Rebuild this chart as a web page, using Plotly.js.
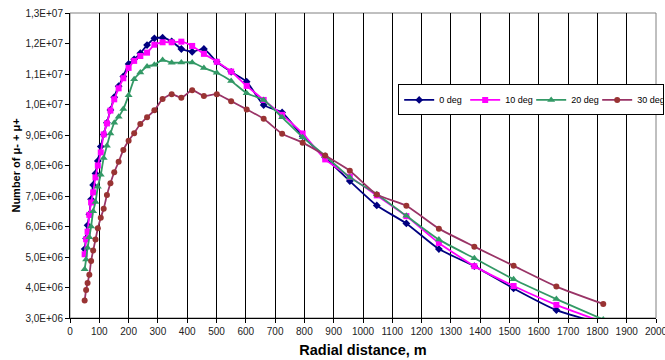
<!DOCTYPE html>
<html>
<head>
<meta charset="utf-8">
<script src="https://cdn.plot.ly/plotly-3.0.1.min.js"></script>
<style>html,body{margin:0;padding:0;background:#fff;}#chart{width:665px;height:360px;}</style>
</head>
<body>
<div id="chart"></div>
<script>
// Radial distance, m
var distance = [50, 55, 60, 66, 72, 79, 87, 95, 105, 115, 126, 138, 151, 166, 182, 200, 219, 240, 263, 288,
  316, 347, 380, 417, 457, 501, 550, 603, 661, 724, 794, 871, 955, 1047, 1148, 1259, 1380, 1514, 1660, 1820];

// Number of muons (millions)
var deg0 = [5.26, 5.61, 6.04, 6.40, 6.89, 7.36, 7.74, 8.15, 8.62, 9.02, 9.40, 9.82, 10.24, 10.60, 10.92, 11.33, 11.48, 11.68, 11.95, 12.17,
  12.19, 12.07, 11.82, 11.73, 11.82, 11.40, 11.07, 10.75, 9.98, 9.74, 8.96, 8.26, 7.49, 6.69, 6.10, 5.26, 4.70, 3.97, 3.26, 2.80];
var deg10 = [5.09, 5.58, 5.83, 6.38, 6.79, 7.12, 7.61, 8.00, 8.43, 9.02, 9.38, 9.80, 10.17, 10.53, 10.86, 11.20, 11.43, 11.59, 11.70, 11.96,
  12.04, 12.04, 12.06, 11.92, 11.66, 11.40, 11.08, 10.61, 10.15, 9.66, 9.05, 8.20, 7.63, 7.02, 6.34, 5.46, 4.70, 4.05, 3.43, 2.86];
var deg20 = [4.60, 4.92, 5.30, 5.65, 6.00, 6.50, 6.80, 7.30, 7.70, 8.25, 8.65, 9.05, 9.40, 9.60, 9.85, 10.30, 10.83, 11.05, 11.25, 11.30,
  11.46, 11.37, 11.38, 11.38, 11.20, 11.04, 10.77, 10.37, 10.15, 9.58, 8.93, 8.32, 7.61, 7.06, 6.35, 5.57, 4.96, 4.27, 3.62, 2.95];
var deg30 = [3.57, 3.92, 4.15, 4.42, 4.87, 5.21, 5.57, 5.94, 6.29, 6.58, 7.03, 7.42, 7.78, 8.12, 8.51, 8.81, 9.06, 9.36, 9.58, 9.81,
  10.18, 10.34, 10.22, 10.47, 10.28, 10.34, 10.11, 9.84, 9.53, 9.04, 8.75, 8.33, 7.83, 7.05, 6.68, 5.93, 5.34, 4.71, 4.03, 3.46];

var seriesNames = ['0 deg', '10 deg', '20 deg', '30 deg'];
var yTickVals = [3, 4, 5, 6, 7, 8, 9, 10, 11, 12, 13];
var yTickText = ['3,0E+06', '4,0E+06', '5,0E+06', '6,0E+06', '7,0E+06', '8,0E+06', '9,0E+06', '1,0E+07', '1,1E+07', '1,2E+07', '1,3E+07'];
var xTickVals = [0, 100, 200, 300, 400, 500, 600, 700, 800, 900, 1000, 1100, 1200, 1300, 1400, 1500, 1600, 1700, 1800, 1900, 2000];

function scale(a) { return a.map(function (v) { return v * 1e6; }); }

var styles = [
  {line: '#000080', marker: '#000080', symbol: 'diamond', size: 6},
  {line: '#FF00FF', marker: '#FF00FF', symbol: 'square', size: 6},
  {line: '#339966', marker: '#339966', symbol: 'triangle-up', size: 7},
  {line: '#993366', marker: '#993333', symbol: 'circle', size: 6}
];
var ys = [deg0, deg10, deg20, deg30];

var traces = ys.map(function (arr, i) {
  return {
    x: distance, y: scale(arr), name: seriesNames[i], type: 'scatter', mode: 'lines+markers',
    line: {color: styles[i].line, width: 1.8, shape: 'spline', smoothing: 0.5},
    marker: {color: styles[i].marker, symbol: styles[i].symbol, size: styles[i].size},
    cliponaxis: true
  };
});

var layout = {
  width: 665, height: 360,
  margin: {l: 70, r: 9, t: 13, b: 42, autoexpand: false},
  paper_bgcolor: '#fff', plot_bgcolor: '#fff',
  font: {family: 'Arial, Liberation Sans, sans-serif', color: '#000', size: 10},
  showlegend: true,
  legend: {
    orientation: 'h', x: 0.787, y: 0.715, xanchor: 'center', yanchor: 'middle',
    bgcolor: '#fff', bordercolor: '#000', borderwidth: 1,
    font: {size: 9}, itemwidth: 30, tracegroupgap: 0,
    entrywidth: 21, entrywidthmode: 'pixels'
  },
  xaxis: {
    range: [0, 2000], tickvals: xTickVals, ticktext: xTickVals.map(String),
    showgrid: true, gridcolor: '#000', gridwidth: 1,
    showline: true, linecolor: '#000', linewidth: 1,
    ticks: 'outside', ticklen: 4, tickcolor: '#000',
    zeroline: false, ticklabeloverflow: 'allow',
    tickfont: {size: 10, color: '#222'},
    title: {text: 'Radial distance, m', font: {size: 14.5, family: 'Arial, Liberation Sans, sans-serif', weight: 'bold'}, standoff: 8}
  },
  yaxis: {
    range: [3e6, 13e6], tickvals: scale(yTickVals), ticktext: yTickText,
    showgrid: false, showline: true, linecolor: '#000', linewidth: 1,
    ticks: 'outside', ticklen: 4, tickcolor: '#000',
    zeroline: false,
    tickfont: {size: 10, color: '#222'},
    title: {text: 'Number of μ- + μ+', font: {size: 11, family: 'Arial, Liberation Sans, sans-serif', weight: 'bold'}, standoff: 2}
  },
  shapes: [
    {type: 'rect', xref: 'paper', yref: 'paper', x0: 0, x1: 1, y0: 0, y1: 1, line: {color: '#808080', width: 1}, layer: 'below'}
  ]
};

Plotly.newPlot('chart', traces, layout, {displayModeBar: false, staticPlot: true});
</script>
</body>
</html>
